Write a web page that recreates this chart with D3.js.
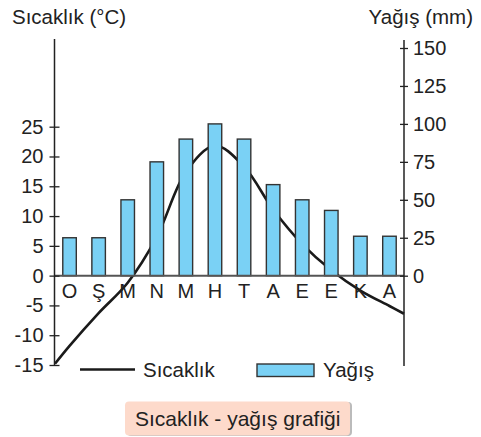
<!DOCTYPE html>
<html>
<head>
<meta charset="utf-8">
<script src="https://cdn.jsdelivr.net/npm/d3@7"></script>
<style>
    body { margin: 0; background: #fff; }
    text { font-family: "Liberation Sans", Arial, sans-serif; fill: #222; }
</style>
</head>
<body>
<div id="chart"></div>
<script>
// data
let months = ["O", "Ş", "M", "N", "M", "H", "T", "A", "E", "E", "K", "A"];
let rain = [25, 25, 50, 75, 90, 100, 90, 60, 50, 43, 26, 26];
let temp = [-11.8, -6.3, -1.2, 6.5, 17.4, 21.8, 18.3, 11.1, 5.3, 0.9, -2.5, -5.1];
// curve value where it meets the left and right axis
let tempEdges = [-14.8, -6.4];
let tempTicks = [-15, -10, -5, 0, 5, 10, 15, 20, 25];
let rainTicks = [0, 25, 50, 75, 100, 125, 150];

let svgWidth = 481;
let svgHeight = 437;

let svg = d3.select("#chart")
    .append("svg")
    .attr("width", svgWidth)
    .attr("height", svgHeight);

let leftX = 54.5;
let rightX = 404;

// x scales
let xBand = d3.scaleBand()
    .domain(d3.range(months.length))
    .range([55, 404])
    .paddingInner(0.535)
    .paddingOuter(0.2675);

let xIdx = d3.scaleLinear()
    .domain([-0.5, months.length - 0.5])
    .range([55, 404]);

// y scales
let yTemp = d3.scaleLinear().domain([-15, 25]).range([365, 126.7]);
let yRain = d3.scaleLinear().domain([0, 150]).range([275.7, 48]);

// temperature curve (drawn under the bars)
let curvePts = [[-0.5, tempEdges[0]]]
    .concat(temp.map((t, i) => [i, t]))
    .concat([[months.length - 0.5, tempEdges[1]]]);

let line = d3.line()
    .x(d => xIdx(d[0]))
    .y(d => yTemp(d[1]))
    .curve(d3.curveCatmullRom.alpha(0.5));

svg.append("path")
    .datum(curvePts)
    .attr("d", line)
    .attr("fill", "none")
    .attr("stroke", "#1a1a1a")
    .attr("stroke-width", 2.6);

// bars
svg.selectAll("rect.bar")
    .data(rain)
    .enter()
    .append("rect")
    .attr("class", "bar")
    .attr("x", (d, i) => xBand(i))
    .attr("width", xBand.bandwidth())
    .attr("y", d => yRain(d))
    .attr("height", d => yRain(0) - yRain(d))
    .attr("fill", "#7ad1f5")
    .attr("stroke", "#333")
    .attr("stroke-width", 1.4);

// zero line
svg.append("line")
    .attr("x1", leftX).attr("x2", rightX)
    .attr("y1", yTemp(0)).attr("y2", yTemp(0))
    .attr("stroke", "#555")
    .attr("stroke-width", 2);

// axis lines
svg.append("line")
    .attr("x1", leftX).attr("x2", leftX)
    .attr("y1", 39).attr("y2", yTemp(-15))
    .attr("stroke", "#222").attr("stroke-width", 1.5);

svg.append("line")
    .attr("x1", rightX).attr("x2", rightX)
    .attr("y1", 40).attr("y2", 366)
    .attr("stroke", "#222").attr("stroke-width", 1.5);

// left axis ticks, crossing the line (plain hyphen for negatives)
let leftAxis = d3.axisLeft(yTemp)
    .tickValues(tempTicks)
    .tickSize(5)
    .tickPadding(6)
    .tickFormat(d => String(d));

let gLeft = svg.append("g")
    .attr("transform", `translate(${leftX},0)`)
    .call(leftAxis);
gLeft.select(".domain").remove();
gLeft.selectAll(".tick line").attr("x1", 5).attr("stroke", "#222").attr("stroke-width", 1.3);
gLeft.selectAll(".tick text")
    .style("font-size", "20px")
    .style("font-family", "Liberation Sans, Arial, sans-serif")
    .attr("fill", "#222");

let rightAxis = d3.axisRight(yRain)
    .tickValues(rainTicks)
    .tickSize(4)
    .tickPadding(5);

let gRight = svg.append("g")
    .attr("transform", `translate(${rightX},0)`)
    .call(rightAxis);
gRight.select(".domain").remove();
gRight.selectAll(".tick line").attr("x1", -4).attr("stroke", "#222").attr("stroke-width", 1.3);
gRight.selectAll(".tick text")
    .style("font-size", "20px")
    .style("font-family", "Liberation Sans, Arial, sans-serif")
    .attr("fill", "#222");

// month labels
svg.selectAll("text.month")
    .data(months)
    .enter()
    .append("text")
    .attr("class", "month")
    .attr("x", (d, i) => xBand(i) + xBand.bandwidth() / 2)
    .attr("y", 298)
    .attr("text-anchor", "middle")
    .style("font-size", "20px")
    .text(d => d);

// axis titles
svg.append("text")
    .attr("x", 12)
    .attr("y", 24)
    .style("font-size", "20.5px")
    .text("Sıcaklık (°C)");

svg.append("text")
    .attr("x", 473)
    .attr("y", 24)
    .attr("text-anchor", "end")
    .style("font-size", "20.5px")
    .text("Yağış (mm)");

// legend
svg.append("line")
    .attr("x1", 80).attr("x2", 135)
    .attr("y1", 369.5).attr("y2", 369.5)
    .attr("stroke", "#1a1a1a").attr("stroke-width", 2.6);

svg.append("text")
    .attr("x", 143)
    .attr("y", 377)
    .style("font-size", "20.5px")
    .text("Sıcaklık");

svg.append("rect")
    .attr("x", 257).attr("y", 364)
    .attr("width", 57).attr("height", 12.5)
    .attr("fill", "#7ad1f5")
    .attr("stroke", "#333").attr("stroke-width", 1.4);

svg.append("text")
    .attr("x", 323)
    .attr("y", 377)
    .style("font-size", "20.5px")
    .text("Yağış");

// caption box
svg.append("rect")
    .attr("x", 127).attr("y", 402)
    .attr("width", 225).attr("height", 34)
    .attr("rx", 4)
    .attr("fill", "#bbb");

svg.append("rect")
    .attr("x", 125).attr("y", 401.5)
    .attr("width", 225).attr("height", 34)
    .attr("rx", 4)
    .attr("fill", "#fddacb");

svg.append("text")
    .attr("x", 135)
    .attr("y", 426)
    .style("font-size", "21px")
    .text("Sıcaklık - yağış grafiği");
</script>
</body>
</html>
